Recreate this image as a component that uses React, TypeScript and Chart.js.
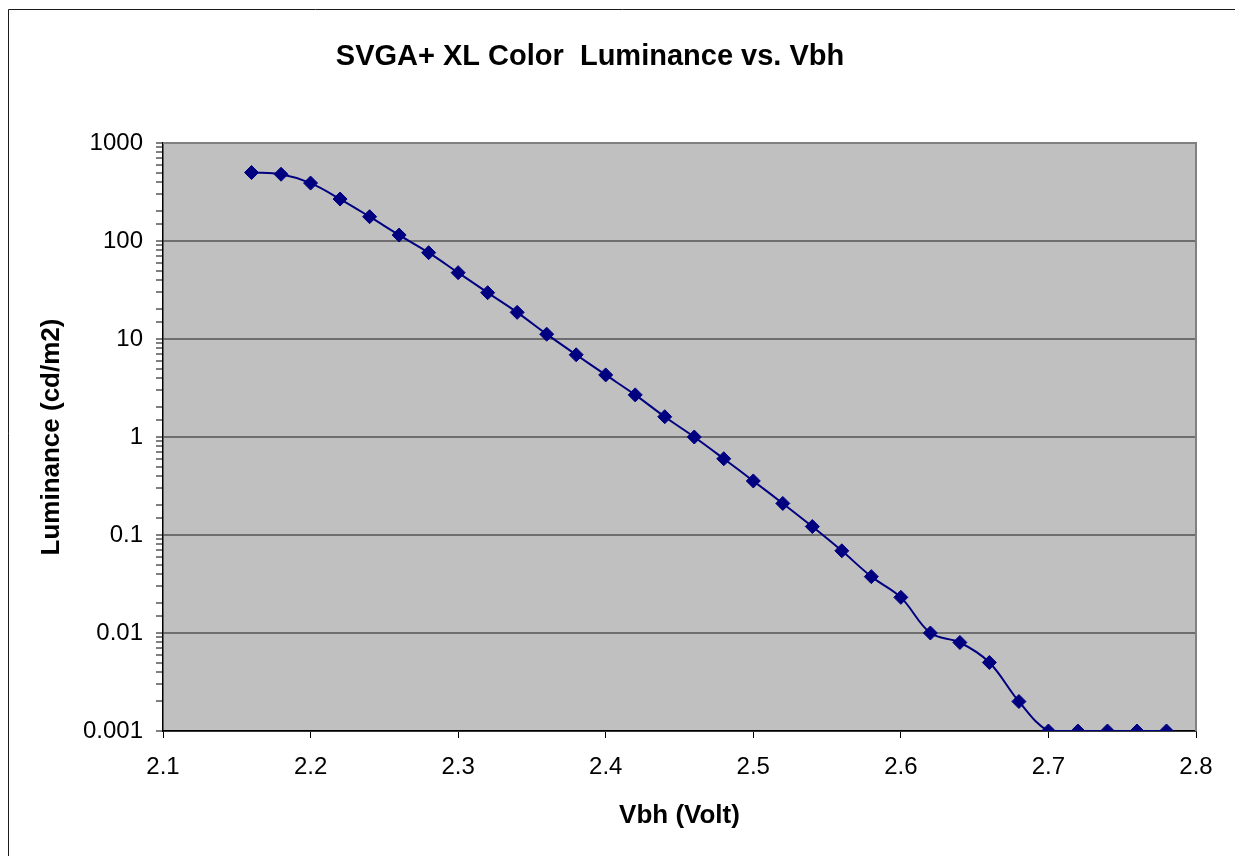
import React, { useEffect, useRef } from "react";
import { Chart, registerables } from "chart.js";

Chart.register(...registerables);

const TITLE = "SVGA+ XL Color  Luminance vs. Vbh";
const X_TITLE = "Vbh (Volt)";
const Y_TITLE = "Luminance (cd/m2)";

const vbh = [
  2.16, 2.18, 2.2, 2.22, 2.24, 2.26, 2.28, 2.3, 2.32, 2.34, 2.36, 2.38, 2.4,
  2.42, 2.44, 2.46, 2.48, 2.5, 2.52, 2.54, 2.56, 2.58, 2.6, 2.62, 2.64, 2.66,
  2.68, 2.7, 2.72, 2.74, 2.76, 2.78,
];
const luminance = [
  500, 480, 390, 268, 177, 115, 76, 47.5, 29.7, 18.7, 11.2, 6.9, 4.3, 2.69,
  1.61, 1.0, 0.6, 0.356, 0.21, 0.122, 0.069, 0.0376, 0.0231, 0.01, 0.008,
  0.005, 0.002, 0.001, 0.001, 0.001, 0.001, 0.001,
];
const yTickLabels = ["0.001", "0.01", "0.1", "1", "10", "100", "1000"];
const xMin = 2.1;
const xMax = 2.8;
const xStep = 0.1;

const FONT = "'Liberation Sans', Arial, sans-serif";

const decorPlugin = {
  id: "decor",
  beforeDraw(chart: any) {
    const { ctx, chartArea } = chart;
    ctx.save();
    ctx.fillStyle = "#ffffff";
    ctx.fillRect(0, 0, chart.width, chart.height);
    ctx.fillStyle = "#c0c0c0";
    ctx.fillRect(
      chartArea.left,
      chartArea.top,
      chartArea.right - chartArea.left,
      chartArea.bottom - chartArea.top
    );
    ctx.restore();
  },
  afterDraw(chart: any) {
    const { ctx, chartArea } = chart;
    ctx.save();
    // outer chart border
    ctx.strokeStyle = "#1a1a1a";
    ctx.lineWidth = 1;
    ctx.beginPath();
    ctx.moveTo(8.5, chart.height + 2);
    ctx.lineTo(8.5, 9.5);
    ctx.lineTo(chart.width + 2, 9.5);
    ctx.stroke();
    // plot area top/right border
    ctx.strokeStyle = "#808080";
    ctx.lineWidth = 2;
    ctx.beginPath();
    ctx.moveTo(chartArea.left, chartArea.top);
    ctx.lineTo(chartArea.right, chartArea.top);
    ctx.lineTo(chartArea.right, chartArea.bottom);
    ctx.stroke();
    // titles
    ctx.fillStyle = "#000000";
    ctx.textAlign = "center";
    ctx.textBaseline = "alphabetic";
    ctx.font = `bold 29px ${FONT}`;
    ctx.fillText(TITLE, 590, 65);
    ctx.font = `bold 26px ${FONT}`;
    ctx.fillText(X_TITLE, (chartArea.left + chartArea.right) / 2, 823);
    ctx.translate(59, 437);
    ctx.rotate(-Math.PI / 2);
    ctx.fillText(Y_TITLE, 0, 0);
    ctx.restore();
  },
};

function isDecade(v: number) {
  const l = Math.log10(v);
  return Math.abs(l - Math.round(l)) < 1e-6;
}

export default function App() {
  const ref = useRef<HTMLCanvasElement | null>(null);
  useEffect(() => {
    document.body.style.margin = "0";
    const canvas = ref.current;
    if (!canvas) return;
    const chart = new Chart(canvas, {
      type: "line",
      data: {
        datasets: [
          {
            data: vbh.map((x, i) => ({ x, y: luminance[i] })),
            borderColor: "#000080",
            backgroundColor: "#000080",
            borderWidth: 2,
            pointStyle: "rectRot",
            pointRadius: 7,
            pointBorderWidth: 1,
            pointBackgroundColor: "#000080",
            pointBorderColor: "#000080",
            tension: 0.35,
            fill: false,
          },
        ],
      },
      options: {
        animation: false,
        responsive: false,
        devicePixelRatio: 1,
        layout: { padding: { top: 143, right: 39, bottom: 0, left: 0 } },
        plugins: {
          legend: { display: false },
          title: { display: false },
          tooltip: { enabled: false },
        },
        scales: {
          x: {
            type: "linear",
            min: xMin,
            max: xMax,
            afterFit: (s: any) => {
              s.height = 125;
            },
            ticks: {
              stepSize: xStep,
              autoSkip: false,
              padding: 15,
              color: "#000",
              font: { family: FONT, size: 24 },
              callback: (v: any) => Number(v).toFixed(1),
            },
            grid: {
              color: "rgba(0,0,0,0)",
              tickColor: "#000",
              tickLength: 7,
              drawTicks: true,
            },
            border: { color: "#000", width: 1.5 },
          },
          y: {
            type: "logarithmic",
            min: 0.001,
            max: 1000,
            afterFit: (s: any) => {
              s.width = 163;
            },
            ticks: {
              autoSkip: false,
              padding: 13,
              color: "#000",
              font: { family: FONT, size: 24 },
              callback: (v: any) => {
                const n = Number(v);
                if (!isDecade(n)) return "";
                return yTickLabels[Math.round(Math.log10(n)) + 3];
              },
            },
            grid: {
              color: (c: any) =>
                c.tick && isDecade(c.tick.value) ? "#6e6e6e" : "rgba(0,0,0,0)",
              lineWidth: 2,
              tickColor: "#000",
              tickWidth: 1,
              tickLength: 7,
              drawTicks: true,
            },
            border: { color: "#000", width: 1.5 },
          },
        },
      },
      plugins: [decorPlugin],
    });
    return () => chart.destroy();
  }, []);
  return (
    <div style={{ width: 1235, height: 856 }}>
      <canvas ref={ref} width={1235} height={856} style={{ display: "block" }} />
    </div>
  );
}
